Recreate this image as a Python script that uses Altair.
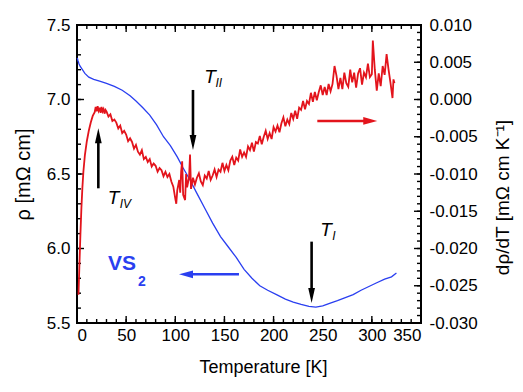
import altair as alt
import pandas as pd

# ---------------- data ----------------
# resistivity rho(T) [mOhm cm]  (blue, left axis)
T_rho = [0.3, 1, 2, 3, 5, 8, 12, 17, 23, 30, 38, 46, 54, 60, 67, 74, 81, 88, 95, 102,
         108, 115, 122, 130, 138, 146, 154, 162, 170, 178, 186, 194, 203, 212, 220, 228,
         236, 243, 250, 257, 265, 273, 281, 289, 297, 305, 313, 320, 325]
rho = [7.28, 7.26, 7.24, 7.225, 7.205, 7.175, 7.15, 7.135, 7.123, 7.108, 7.088, 7.062,
       7.025, 6.99, 6.945, 6.895, 6.83, 6.75, 6.69, 6.615, 6.54, 6.46, 6.37, 6.27, 6.17,
       6.08, 6.01, 5.94, 5.86, 5.80, 5.75, 5.72, 5.69, 5.66, 5.64, 5.625, 5.612, 5.607,
       5.615, 5.632, 5.65, 5.67, 5.69, 5.72, 5.745, 5.77, 5.795, 5.81, 5.835]

# derivative drho/dT [mOhm cm K^-1]  (red, right axis)
T_d = [1.5, 2.5, 3.5, 4.5, 5.5, 6.5, 8, 10, 12, 14, 16, 18, 19, 20, 21, 22, 23, 24, 25, 26,
       27, 28, 29, 30, 32, 34, 36, 38, 40, 42, 44, 46, 48, 50, 52, 54, 56, 58, 60, 62, 64,
       66, 68, 70, 72, 74, 76, 78, 80, 82, 84, 86, 88, 90, 92, 94, 96, 98, 100, 101, 102,
       104, 105, 106, 107, 108, 110, 111, 112, 114, 115, 116, 118, 120, 122, 124, 126, 128,
       130, 132, 134, 136, 138, 140, 142, 144, 146, 148, 150, 152, 154, 156, 158, 160, 162,
       164, 166, 168, 170, 172, 174, 176, 178, 180, 182, 184, 186, 188, 190, 192, 194, 196,
       198, 200, 202, 204, 206, 208, 210, 212, 214, 216, 218, 220, 222, 224, 226, 228, 230,
       232, 234, 236, 238, 240, 242, 244, 246, 248, 250, 252, 254, 256, 258, 260, 262, 264,
       266, 268, 270, 272, 274, 276, 278, 280, 282, 284, 286, 288, 290, 292, 294, 296, 298,
       300, 301, 303, 305, 307, 309, 311, 313, 315, 317, 319, 321, 322, 323]
drho_dT = [-0.0262, -0.0220, -0.0180, -0.0145, -0.0118, -0.0097, -0.0075, -0.0056, -0.0042,
           -0.0031, -0.0022, -0.0017, -0.0010, -0.0016, -0.0009, -0.0015, -0.0011, -0.0018,
           -0.0010, -0.0016, -0.0013, -0.0019, -0.0014, -0.0016, -0.0023, -0.0020, -0.0029,
           -0.0027, -0.0031, -0.0039, -0.0035, -0.0045, -0.0042, -0.0047, -0.0056, -0.0052,
           -0.0057, -0.0066, -0.0061, -0.0070, -0.0074, -0.0068, -0.0080, -0.0077, -0.0084,
           -0.0080, -0.0090, -0.0086, -0.0089, -0.0097, -0.0092, -0.0095, -0.0103, -0.0097,
           -0.0104, -0.0100, -0.0110, -0.0117, -0.0133, -0.0140, -0.0122, -0.0108, -0.0125,
           -0.0096, -0.0083, -0.0128, -0.0135, -0.0100, -0.0118, -0.0105, -0.0074, -0.0120,
           -0.0105, -0.0114, -0.0105, -0.0099, -0.0110, -0.0115, -0.0102, -0.0106, -0.0096,
           -0.0108, -0.0102, -0.0094, -0.0104, -0.0094, -0.0097, -0.0085, -0.0096, -0.0088,
           -0.0095, -0.0082, -0.0077, -0.0088, -0.0078, -0.0082, -0.0067, -0.0077, -0.0071,
           -0.0077, -0.0063, -0.0068, -0.0058, -0.0070, -0.0057, -0.0059, -0.0049, -0.0060,
           -0.0050, -0.0042, -0.0053, -0.0045, -0.0053, -0.0037, -0.0043, -0.0035, -0.0044,
           -0.0032, -0.0024, -0.0036, -0.0027, -0.0033, -0.0018, -0.0026, -0.0015, -0.0026,
           -0.0011, -0.0014, -0.0002, -0.0013, -0.0002, -0.0006, 0.0009, -0.0003, 0.0010,
           -0.0001, 0.0010, 0.0019, 0.0006, 0.0017, 0.0006, 0.0021, 0.0011, 0.0021, 0.0045,
           0.0032, 0.0014, 0.0029, 0.0014, 0.0036, 0.0022, 0.0017, 0.0040, 0.0023, 0.0036,
           0.0016, 0.0035, 0.0042, 0.0020, 0.0036, 0.0030, 0.0048, 0.0030, 0.0034, 0.0079,
           0.0040, 0.0012, 0.0035, 0.0018, 0.0045, 0.0033, 0.0061, 0.0040, 0.0022, 0.0002,
           0.0027, 0.0022]

# axis tick labels
x_labels = [0, 50, 100, 150, 200, 250, 300, 350]
rho_labels = [5.5, 6.0, 6.5, 7.0, 7.5]
d_labels = [-0.030, -0.025, -0.020, -0.015, -0.010, -0.005, 0.000, 0.005, 0.010]
x_minor = [0, 10, 20, 30, 40, 50, 60, 70, 80, 90, 100, 110, 120, 130, 140, 150, 160, 170,
           180, 190, 200, 210, 220, 230, 240, 250, 260, 270, 280, 290, 300, 310, 320, 330,
           340, 350]
rho_minor = [round(5.5 + 0.1 * i, 2) for i in range(21)]
d_minor = [round(-0.030 + 0.001 * i, 4) for i in range(41)]

# annotations (data coordinates: T [K], rho [mOhm cm])
down_arrow_T = [118, 238.7]
down_arrow_from = [7.064, 6.046]
down_arrow_shaft_end = [6.715, 5.688]
down_arrow_tip = [6.661, 5.634]
up_arrow_T = [21.7]
up_arrow_from = [6.404]
up_arrow_shaft_end = [6.753]
up_arrow_tip = [6.807]
label_T_x = [135.3, 37.1, 253.3]
label_T_y = [7.151, 6.336, 6.124]
label_sub = ["II", "IV", "I"]
label_sub_x = [144.3, 49.3, 261.4]
label_sub_y = [7.112, 6.302, 6.084]
blue_arrow = {"from": 164.8, "shaft_end": 111.9, "tip": 103.8, "y": 5.827}
red_arrow = {"from": 244.5, "shaft_end": 297.4, "tip": 305.5, "y": 6.856}
vs_label = {"x": 45.8, "y": 5.893, "sub_x": 66.1, "sub_y": 5.775}

# ---------------- styling ----------------
W, H = 344, 298
FONT = "Liberation Sans"
BLUE = "#2a3ff0"
RED = "#e3141c"
MAJ, MIN = 7, 4

xs = alt.Scale(domain=[0, 350], nice=False, zero=False)
ysL = alt.Scale(domain=[5.5, 7.5], nice=False, zero=False)
ysR = alt.Scale(domain=[-0.030, 0.010], nice=False, zero=False)

x_axis = alt.Axis(values=x_labels, title="Temperature [K]", ticks=False, tickSize=0,
                  domain=False, grid=False, labelFont=FONT, labelFontSize=17,
                  labelColor="black", labelPadding=4, titleFont=FONT, titleFontSize=18,
                  titleFontWeight="normal", titleColor="black", titlePadding=15,
                  titleX=186, titleAlign="center")
yL_axis = alt.Axis(values=rho_labels, format=".1f", title="ρ [mΩ cm]", ticks=False,
                   tickSize=0, domain=False, grid=False, labelFont=FONT, labelFontSize=17,
                   labelColor="black", labelPadding=7, titleFont=FONT, titleFontSize=20,
                   titleFontWeight="normal", titleColor="black", titlePadding=13)
yR_axis = alt.Axis(values=d_labels, format=".3f", orient="right", title="dρ/dT [mΩ cm K⁻¹]",
                   labelExpr="replace(datum.label, '\u2212', '-')",
                   ticks=False, tickSize=0, domain=False, grid=False, labelFont=FONT,
                   labelFontSize=17, labelColor="black", labelPadding=8, titleFont=FONT,
                   titleFontSize=19, titleFontWeight="normal", titleColor="black",
                   titleAngle=270, titleBaseline="top", titlePadding=16, titleY=172)

X = lambda f: alt.X(f, type="quantitative", scale=xs, axis=x_axis)
YL = lambda f: alt.Y(f, type="quantitative", scale=ysL, axis=yL_axis)
YR = lambda f: alt.Y(f, type="quantitative", scale=ysR, axis=yR_axis)

# ---------------- left (rho) layers ----------------
blue_df = pd.DataFrame({"T": T_rho, "rho": rho})
blue_line = alt.Chart(blue_df).mark_line(color=BLUE, strokeWidth=1.3).encode(
    x=X("T"), y=YL("rho"))


def vtick(vals, top, length):
    enc = dict(x=X("v"))
    if top:
        enc.update(y=alt.value(0), y2=alt.value(length))
    else:
        enc.update(y=alt.value(H), y2=alt.value(H - length))
    return alt.Chart(pd.DataFrame({"v": vals})).mark_rule(
        color="black", strokeWidth=1.4).encode(**enc)


left_ticks_major = alt.Chart(pd.DataFrame({"v": rho_labels})).mark_rule(
    color="black", strokeWidth=1.4).encode(y=YL("v"), x=alt.value(0), x2=alt.value(MAJ))
left_ticks_minor = alt.Chart(pd.DataFrame({"v": rho_minor})).mark_rule(
    color="black", strokeWidth=1.4).encode(y=YL("v"), x=alt.value(0), x2=alt.value(MIN))

DOWN = "M0,0L-0.45,-2L0.45,-2Z"
UP = "M0,0L-0.45,2L0.45,2Z"
LEFT = "M0,0L2,-0.55L2,0.55Z"
RIGHT = "M0,0L-2,-0.55L-2,0.55Z"

down_df = pd.DataFrame({"T": down_arrow_T, "y1": down_arrow_from,
                        "y2": down_arrow_shaft_end, "tip": down_arrow_tip})
up_df = pd.DataFrame({"T": up_arrow_T, "y1": up_arrow_from,
                      "y2": up_arrow_shaft_end, "tip": up_arrow_tip})

down_shaft = alt.Chart(down_df).mark_rule(color="black", strokeWidth=2.6).encode(
    x=X("T"), y=YL("y1"), y2="y2:Q")
down_head = alt.Chart(down_df).mark_point(shape=DOWN, filled=True, color="black",
                                          opacity=1, size=225).encode(x=X("T"), y=YL("tip"))
up_shaft = alt.Chart(up_df).mark_rule(color="black", strokeWidth=2.6).encode(
    x=X("T"), y=YL("y1"), y2="y2:Q")
up_head = alt.Chart(up_df).mark_point(shape=UP, filled=True, color="black",
                                      opacity=1, size=225).encode(x=X("T"), y=YL("tip"))

blue_arrow_df = pd.DataFrame([blue_arrow])
blue_shaft = alt.Chart(blue_arrow_df).mark_rule(color=BLUE, strokeWidth=2.6).encode(
    x=X("from"), x2="shaft_end:Q", y=YL("y"))
blue_head = alt.Chart(blue_arrow_df).mark_point(shape=LEFT, filled=True, color=BLUE,
                                                opacity=1, size=196).encode(x=X("tip"), y=YL("y"))
red_arrow_df = pd.DataFrame([red_arrow])
red_shaft = alt.Chart(red_arrow_df).mark_rule(color=RED, strokeWidth=2.6).encode(
    x=X("from"), x2="shaft_end:Q", y=YL("y"))
red_head = alt.Chart(red_arrow_df).mark_point(shape=RIGHT, filled=True, color=RED,
                                              opacity=1, size=196).encode(x=X("tip"), y=YL("y"))

lab_df = pd.DataFrame({"x": label_T_x, "y": label_T_y, "t": ["T"] * 3,
                       "sx": label_sub_x, "sy": label_sub_y, "s": label_sub})
lab_T = alt.Chart(lab_df).mark_text(font=FONT, fontSize=19, fontStyle="italic",
                                    color="black").encode(x=X("x"), y=YL("y"), text="t:N")
lab_sub = alt.Chart(lab_df).mark_text(font=FONT, fontSize=12, fontStyle="italic",
                                      color="black").encode(x=X("sx"), y=YL("sy"), text="s:N")

vs_df = pd.DataFrame([dict(vs_label, t="VS", s="2")])
vs_text = alt.Chart(vs_df).mark_text(font=FONT, fontSize=21, fontWeight="bold",
                                     color=BLUE).encode(x=X("x"), y=YL("y"), text="t:N")
vs_sub = alt.Chart(vs_df).mark_text(font=FONT, fontSize=14, fontWeight="bold",
                                    color=BLUE).encode(x=X("sub_x"), y=YL("sub_y"), text="s:N")

left_group = alt.layer(
    blue_line,
    vtick(x_minor, True, MIN), vtick(x_labels, True, MAJ),
    vtick(x_minor, False, MIN), vtick(x_labels, False, MAJ),
    left_ticks_minor, left_ticks_major,
    down_shaft, down_head, up_shaft, up_head,
    blue_shaft, blue_head, red_shaft, red_head,
    lab_T, lab_sub, vs_text, vs_sub,
)

# ---------------- right (drho/dT) layers ----------------
red_df = pd.DataFrame({"T": T_d, "d": drho_dT})
red_line = alt.Chart(red_df).mark_line(color=RED, strokeWidth=1.8).encode(
    x=X("T"), y=YR("d"))
right_ticks_major = alt.Chart(pd.DataFrame({"v": d_labels})).mark_rule(
    color="black", strokeWidth=1.4).encode(y=YR("v"), x=alt.value(W), x2=alt.value(W - MAJ))
right_ticks_minor = alt.Chart(pd.DataFrame({"v": d_minor})).mark_rule(
    color="black", strokeWidth=1.4).encode(y=YR("v"), x=alt.value(W), x2=alt.value(W - MIN))

right_group = alt.layer(red_line, right_ticks_minor, right_ticks_major)

chart = alt.layer(left_group, right_group).resolve_scale(y="independent").properties(
    width=W, height=H,
    autosize=alt.AutoSizeParams(type="none"),
    padding={"left": 69, "top": 17, "right": 94, "bottom": 55},
    background="white",
).configure_view(stroke="black", strokeWidth=2)

chart.save("out.html", embed_options={"renderer": "svg", "actions": False})
